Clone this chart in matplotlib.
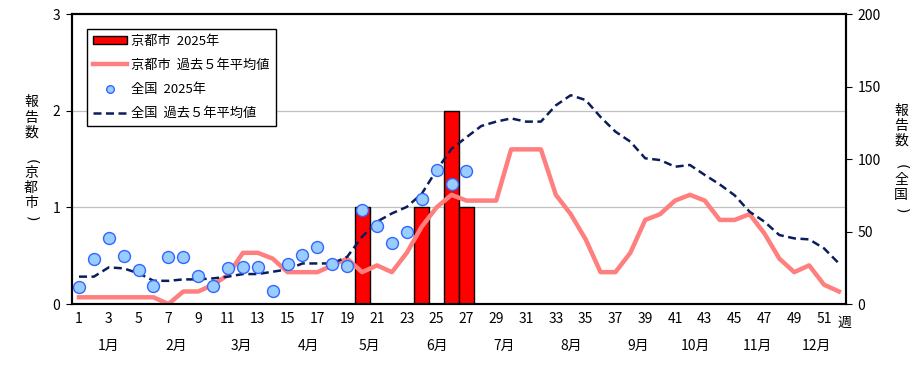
import matplotlib
matplotlib.use("Agg")
import matplotlib.pyplot as plt
import matplotlib.transforms as mtransforms
from matplotlib.patches import Patch
from matplotlib.lines import Line2D

plt.rcParams['font.family'] = ['Noto Sans CJK JP', 'DejaVu Sans']

weeks = list(range(1, 53))

# 京都市 2025年 (報告数)
kyoto_2025 = [0, 0, 0, 0, 0, 0, 0, 0, 0, 0, 0, 0, 0, 0, 0, 0, 0, 0, 0, 1,
              0, 0, 0, 1, 0, 2, 1]

# 京都市 過去5年平均値
kyoto_avg = [0.07, 0.07, 0.07, 0.07, 0.07, 0.07, 0.0, 0.13, 0.13, 0.2,
             0.3, 0.53, 0.53, 0.47, 0.33, 0.33, 0.33, 0.4, 0.47, 0.33,
             0.4, 0.33, 0.53, 0.8, 1.0, 1.13, 1.07, 1.07, 1.07, 1.6,
             1.6, 1.6, 1.13, 0.93, 0.67, 0.33, 0.33, 0.53, 0.87, 0.93,
             1.07, 1.13, 1.07, 0.87, 0.87, 0.93, 0.73, 0.47, 0.33, 0.4,
             0.2, 0.13]

# 全国 2025年
nat_2025 = [11.5, 30.8, 45.5, 33.3, 23.4, 12.6, 32.4, 32.4, 19.5, 12.6,
            24.6, 25.7, 25.7, 8.7, 27.4, 33.5, 39.5, 27.6, 26.0, 64.6,
            53.6, 42.3, 49.9, 72.6, 92.4, 82.8, 91.5]

# 全国 過去5年平均値
nat_avg = [18.9, 18.9, 25.3, 24.6, 21.2, 16.1, 16.0, 17.0, 17.0, 17.7,
           18.9, 20.7, 20.7, 22.3, 23.9, 28.0, 28.0, 28.0, 32.6, 46.4,
           56.8, 62.5, 67.0, 76.0, 92.4, 107.0, 115.0, 122.8, 125.8, 128.0,
           125.8, 125.8, 137.0, 144.0, 140.7, 129.0, 118.9, 112.0, 100.5, 99.3,
           94.7, 95.9, 89.0, 82.5, 75.0, 63.7, 56.8, 47.6, 45.3, 44.6,
           38.4, 28.0]

month_labels = ['1月', '2月', '3月', '4月', '5月', '6月',
                '7月', '8月', '9月', '10月', '11月', '12月']
month_pos = [3.0, 7.5, 11.9, 16.4, 20.5, 25.0,
             29.5, 34.0, 38.5, 42.4, 46.5, 50.5]

fig = plt.figure(figsize=(9.23, 3.69), dpi=100)
ax = fig.add_axes([0.0775, 0.176, 0.8395, 0.786])
ax2 = ax.twinx()

# 京都市
ax.bar(weeks[:len(kyoto_2025)], kyoto_2025, width=1.0, color='#FF0000',
       edgecolor='black', linewidth=1.0, zorder=2)
ax.plot(weeks, kyoto_avg, color='#FF7F7F', linewidth=3.2, zorder=3)

# 全国
ax2.plot(weeks, nat_avg, color='#0A1E5A', linewidth=1.8, linestyle=(0, (3.2, 1.8)))
ax2.plot(weeks[:len(nat_2025)], nat_2025, linestyle='none', marker='o',
         markersize=8.6, markerfacecolor='#99CCFF', markeredgecolor='#3366FF',
         markeredgewidth=1.0)

ax.set_xlim(0.5, 52.5)
ax.set_ylim(0, 3)
ax2.set_ylim(0, 200)
ax.set_yticks([0, 1, 2, 3])
ax2.set_yticks([0, 50, 100, 150, 200])
ax.set_xticks(range(1, 52, 2))
ax.tick_params(axis='x', length=0, pad=6, labelsize=10)
ax.tick_params(axis='y', length=4, width=0.8, pad=4, labelsize=10)
ax2.tick_params(axis='y', length=4, width=0.8, pad=4, labelsize=10)

for a in (ax, ax2):
    for s in a.spines.values():
        s.set_linewidth(1.5)

for v in (1, 2):
    ax.axhline(v, color='#C0C0C0', linewidth=0.9, zorder=0)

trans = mtransforms.blended_transform_factory(ax.transData, ax.transAxes)
ax.text(51.9, -0.065, '週', transform=trans, ha='left', va='center', fontsize=10)
for lab, pos in zip(month_labels, month_pos):
    ax.text(pos, -0.145, lab, transform=trans, ha='center', va='center', fontsize=10)


# vertical axis titles, one character per row
def vertical_label(x, chars, ys):
    for ch, y in zip(chars, ys):
        if ch in '()':
            fig.text(x / 923, 1 - y / 369, ch, ha='center', va='center',
                     fontsize=10, rotation=-90, family='DejaVu Sans')
        else:
            fig.text(x / 923, 1 - y / 369, ch, ha='center', va='center', fontsize=10)


vertical_label(31, '報告数(京都市)', [102, 118, 133, 162, 173, 188, 203, 219])
vertical_label(901, '報告数(全国)', [111, 126, 141, 167, 180, 195, 211])

handles = [
    Patch(facecolor='#FF0000', edgecolor='black', linewidth=1.0),
    Line2D([], [], color='#FF7F7F', linewidth=3.2),
    Line2D([], [], linestyle='none', marker='o', markersize=5.5,
           markerfacecolor='#99CCFF', markeredgecolor='#3366FF'),
    Line2D([], [], color='#0A1E5A', linewidth=1.8, linestyle=(0, (3.2, 1.8))),
]
labels = ['京都市  2025年', '京都市  過去５年平均値', '全国  2025年', '全国  過去５年平均値']
leg = ax2.legend(handles, labels, loc='upper left', bbox_to_anchor=(0.02, 0.95),
                 fontsize=9.5, frameon=True, fancybox=False, edgecolor='black',
                 framealpha=1, handlelength=2.6, handleheight=0.5,
                 borderpad=0.45, labelspacing=0.85, handletextpad=0.3,
                 borderaxespad=0)
leg.get_frame().set_linewidth(1.0)

fig.savefig('out.png', dpi=100)
